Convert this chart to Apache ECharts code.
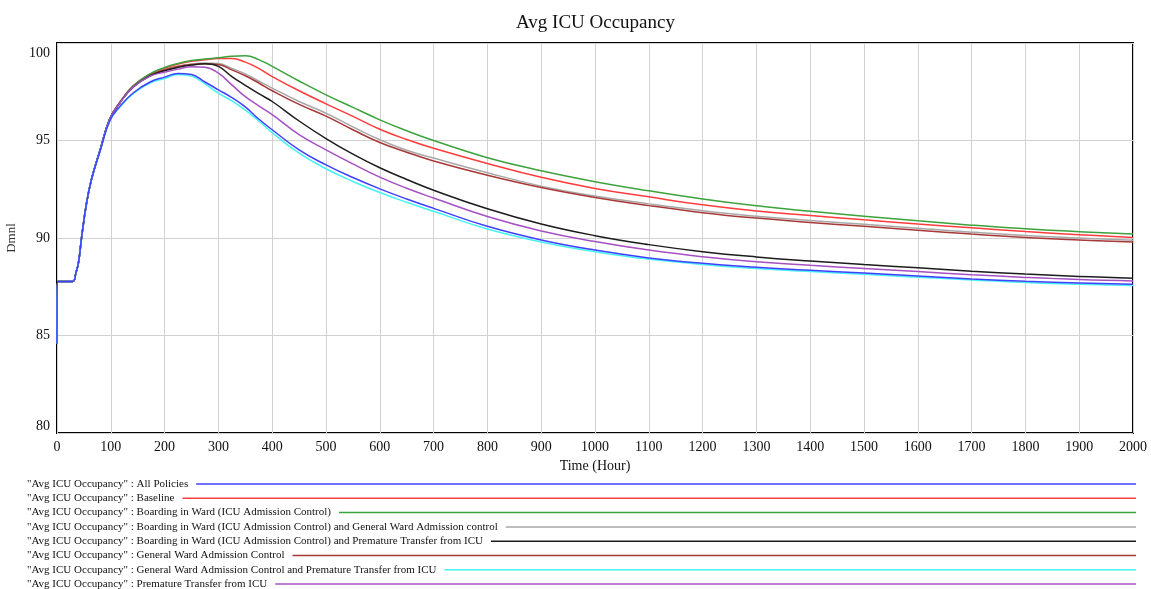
<!DOCTYPE html>
<html>
<head>
<meta charset="utf-8">
<script src="https://cdn.jsdelivr.net/npm/echarts@6/dist/echarts.min.js"></script>
<style>
  html, body { margin: 0; padding: 0; background: #fff; }
  #chart { width: 1151px; height: 589px; }
</style>
</head>
<body>
<div id="chart"></div>
<script>
// Simulation time (hours) at which each run is sampled
const time = [0, 0.5, 29, 35, 40, 46, 55, 64, 80, 98, 117, 142, 173, 200, 225, 250, 275, 300, 325, 350, 375, 400, 450, 500, 550, 600, 650, 700, 800, 900, 1000, 1100, 1200, 1300, 1400, 1500, 1600, 1700, 1800, 1900, 2000];

// Avg ICU Occupancy per policy run (Dmnl)
const allPolicies = [84.6, 87.77, 87.77, 88.2, 88.75, 90.1, 91.8, 93.0, 94.45, 96.0, 96.75, 97.45, 98.0, 98.25, 98.44, 98.38, 98.0, 97.6, 97.2, 96.72, 96.1, 95.55, 94.52, 93.75, 93.1, 92.52, 92.0, 91.52, 90.6, 89.9, 89.38, 88.98, 88.7, 88.5, 88.34, 88.2, 88.05, 87.9, 87.78, 87.69, 87.63];
const baseline = [84.6, 87.77, 87.77, 88.2, 88.75, 90.1, 91.8, 93.0, 94.5, 96.1, 96.95, 97.8, 98.4, 98.71, 98.92, 99.06, 99.14, 99.2, 99.2, 99.02, 98.7, 98.28, 97.55, 96.88, 96.24, 95.58, 95.05, 94.6, 93.82, 93.11, 92.54, 92.11, 91.7, 91.38, 91.15, 90.93, 90.72, 90.52, 90.33, 90.17, 90.03];
const boardingWard = [84.6, 87.77, 87.77, 88.2, 88.75, 90.1, 91.8, 93.0, 94.5, 96.1, 96.95, 97.8, 98.42, 98.74, 98.95, 99.1, 99.18, 99.24, 99.32, 99.35, 99.15, 98.8, 98.05, 97.34, 96.7, 96.06, 95.5, 95.0, 94.12, 93.45, 92.89, 92.42, 92.0, 91.65, 91.37, 91.12, 90.88, 90.66, 90.47, 90.32, 90.2];
const boardingWardGeneral = [84.6, 87.77, 87.77, 88.2, 88.75, 90.1, 91.8, 93.0, 94.5, 96.1, 96.95, 97.8, 98.36, 98.65, 98.82, 98.92, 98.97, 98.95, 98.7, 98.42, 98.05, 97.69, 97.0, 96.4, 95.7, 95.04, 94.5, 94.1, 93.35, 92.66, 92.15, 91.75, 91.4, 91.12, 90.9, 90.7, 90.5, 90.3, 90.13, 90.0, 89.88];
const boardingWardPremature = [84.6, 87.77, 87.77, 88.2, 88.75, 90.1, 91.8, 93.0, 94.5, 96.1, 96.95, 97.75, 98.32, 98.58, 98.75, 98.87, 98.93, 98.8, 98.28, 97.83, 97.4, 97.0, 96.0, 95.1, 94.3, 93.6, 93.0, 92.45, 91.5, 90.72, 90.12, 89.66, 89.3, 89.03, 88.82, 88.64, 88.47, 88.3, 88.15, 88.03, 87.93];
const generalWard = [84.6, 87.77, 87.77, 88.2, 88.75, 90.1, 91.8, 93.0, 94.5, 96.1, 96.95, 97.8, 98.36, 98.62, 98.8, 98.9, 98.93, 98.9, 98.62, 98.32, 97.95, 97.55, 96.85, 96.25, 95.55, 94.9, 94.4, 93.95, 93.22, 92.59, 92.08, 91.66, 91.3, 91.02, 90.8, 90.6, 90.4, 90.2, 90.03, 89.9, 89.79];
const generalWardPremature = [84.6, 87.77, 87.77, 88.2, 88.75, 90.1, 91.8, 93.0, 94.45, 96.0, 96.72, 97.42, 97.95, 98.18, 98.38, 98.3, 97.9, 97.43, 97.03, 96.56, 96.0, 95.4, 94.35, 93.55, 92.9, 92.33, 91.83, 91.37, 90.46, 89.8, 89.3, 88.92, 88.64, 88.44, 88.28, 88.14, 87.99, 87.85, 87.72, 87.63, 87.57];
const premature = [84.6, 87.77, 87.77, 88.2, 88.75, 90.1, 91.8, 93.0, 94.5, 96.1, 96.95, 97.75, 98.3, 98.5, 98.66, 98.78, 98.76, 98.45, 97.85, 97.25, 96.78, 96.33, 95.3, 94.52, 93.8, 93.12, 92.55, 92.05, 91.1, 90.36, 89.82, 89.38, 89.04, 88.78, 88.6, 88.44, 88.28, 88.12, 87.98, 87.87, 87.8];

const runNames = [
  'All Policies',
  'Baseline',
  'Boarding in Ward (ICU Admission Control)',
  'Boarding in Ward (ICU Admission Control) and General Ward Admission control',
  'Boarding in Ward (ICU Admission Control) and Premature Transfer from ICU',
  'General Ward Admission Control',
  'General Ward Admission Control and Premature Transfer from ICU',
  'Premature Transfer from ICU'
];
const runValues = [allPolicies, baseline, boardingWard, boardingWardGeneral, boardingWardPremature, generalWard, generalWardPremature, premature];
const runColors = ['#4040ff', '#ff3c3c', '#3ca23c', '#a8a8a8', '#1c1c1c', '#a83838', '#46f2f2', '#a650c4'];

const variableName = '"Avg ICU Occupancy"';
const xTicks = { min: 0, max: 2000, step: 100 };
const yTicks = { min: 80, max: 100, step: 5 };

const serif = '"Liberation Serif", "DejaVu Serif", serif';
const chart = echarts.init(document.getElementById('chart'), null, { renderer: 'canvas' });

// Draw order: later runs paint over earlier ones
const drawOrder = [3, 5, 1, 2, 4, 7, 6, 0];
const series = drawOrder.map(i => ({
  name: runNames[i],
  type: 'line',
  data: time.map((t, k) => [t, runValues[i][k]]),
  showSymbol: false,
  smooth: 0.45,
  lineStyle: { color: runColors[i], width: 1.5 },
  itemStyle: { color: runColors[i] },
  z: 3,
  silent: true,
  animation: false
}));

// Legend rows: label text followed by a line running to the right edge
const measure = document.createElement('canvas').getContext('2d');
const legendFont = '11px ' + serif;
measure.font = legendFont;
const legendX = 27, legendTop = 484, legendStep = 14.3, legendEnd = 1136;
const legendGraphics = [];
runNames.forEach((name, i) => {
  const label = variableName + ' : ' + name;
  const y = legendTop + i * legendStep;
  const w = measure.measureText(label).width;
  legendGraphics.push({
    type: 'text', x: legendX, y: y,
    style: { text: label, font: legendFont, fill: '#111', align: 'left', verticalAlign: 'middle' },
    silent: true
  });
  legendGraphics.push({
    type: 'line',
    shape: { x1: legendX + w + 8, y1: y, x2: legendEnd, y2: y },
    style: { stroke: runColors[i], lineWidth: 1.5 }, silent: true
  });
});

chart.setOption({
  animation: false,
  backgroundColor: '#fff',
  title: {
    text: 'Avg ICU Occupancy',
    left: 511, top: 9,
    textStyle: { fontFamily: serif, fontSize: 19, fontWeight: 'normal', color: '#111' }
  },
  grid: {
    left: 57, right: 18, top: 43, height: 390,
    outerBoundsMode: 'none',
    show: true, borderColor: '#000', borderWidth: 2, containLabel: false
  },
  xAxis: {
    type: 'value',
    min: xTicks.min, max: xTicks.max, interval: xTicks.step,
    name: 'Time (Hour)', nameLocation: 'middle', nameGap: 26,
    nameTextStyle: { fontFamily: serif, fontSize: 14, color: '#111' },
    axisLine: { show: false },
    axisTick: { show: false },
    axisLabel: { fontFamily: serif, fontSize: 14, color: '#111', margin: 7, formatter: v => String(v) },
    splitLine: { show: true, lineStyle: { color: '#d2d2d2', width: 1 } }
  },
  yAxis: {
    type: 'value',
    min: yTicks.min, max: yTicks.max, interval: yTicks.step,
    name: 'Dmnl', nameLocation: 'middle', nameGap: 38, nameRotate: 90,
    nameTextStyle: { fontFamily: serif, fontSize: 13, color: '#333' },
    axisLine: { show: false },
    axisTick: { show: false },
    axisLabel: {
      fontFamily: serif, fontSize: 14, color: '#111', margin: 7,
      verticalAlignMaxLabel: 'top', verticalAlignMinLabel: 'bottom',
      formatter: v => (v === yTicks.max ? '{top|' + v + '}' : String(v)),
      rich: { top: { fontFamily: serif, fontSize: 14, color: '#111', padding: [3, 0, 0, 0] } }
    },
    splitLine: { show: true, lineStyle: { color: '#d2d2d2', width: 1 } }
  },
  graphic: legendGraphics,
  series: series
});
</script>
</body>
</html>
